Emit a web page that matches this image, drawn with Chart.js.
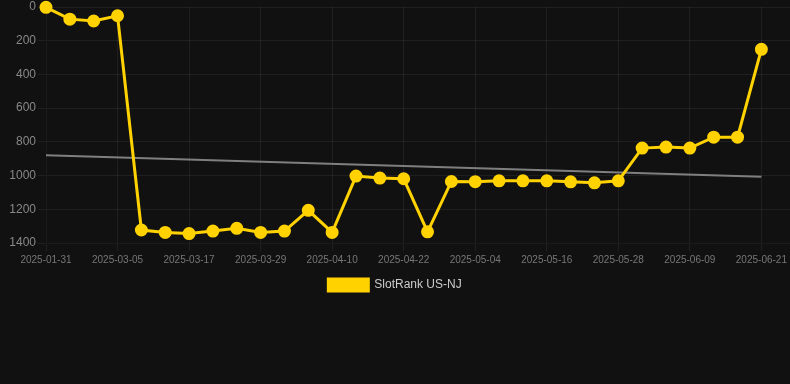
<!DOCTYPE html>
<html>
<head>
<meta charset="utf-8">
<script src="https://cdn.jsdelivr.net/npm/chart.js@4"></script>
<style>
  html, body { margin: 0; padding: 0; background: #111111; }
  #wrap { width: 790px; height: 301px; }
</style>
</head>
<body>
<div id="wrap"><canvas id="rankChart"></canvas></div>
<script>
var dates = ['2025-01-31', '2025-02-11', '2025-02-22', '2025-03-05', '2025-03-09', '2025-03-13',
  '2025-03-17', '2025-03-21', '2025-03-25', '2025-03-29', '2025-04-02', '2025-04-06',
  '2025-04-10', '2025-04-14', '2025-04-18', '2025-04-22', '2025-04-26', '2025-04-30',
  '2025-05-04', '2025-05-08', '2025-05-12', '2025-05-16', '2025-05-20', '2025-05-24',
  '2025-05-28', '2025-06-01', '2025-06-05', '2025-06-09', '2025-06-13', '2025-06-17',
  '2025-06-21'];
var rankNJ = [2, 72, 83, 52, 1323, 1337, 1344, 1329, 1313, 1337, 1329, 1206,
  1337, 1003, 1015, 1019, 1334, 1035, 1036, 1031, 1031, 1031, 1037, 1043,
  1031, 837, 831, 837, 772, 772, 251];
var trendEnds = [880, 1007];
var yTicks = [0, 200, 400, 600, 800, 1000, 1200, 1400];

var rankPoints = rankNJ.map(function (v, i) { return { x: i, y: v }; });
var trendPoints = [
  { x: 0, y: trendEnds[0] },
  { x: dates.length - 1, y: trendEnds[1] }
];

var ctx = document.getElementById('rankChart').getContext('2d');
var rankChart = new Chart(ctx, {
  type: 'line',
  data: {
    datasets: [{
      label: 'SlotRank US-NJ',
      data: rankPoints,
      borderColor: '#ffd200',
      backgroundColor: '#ffd200',
      borderWidth: 3,
      pointRadius: 5,
      tension: 0,
      clip: false
    }, {
      label: 'trend',
      data: trendPoints,
      borderColor: 'rgba(140,140,140,0.9)',
      borderWidth: 2,
      pointRadius: 0
    }]
  },
  options: {
    responsive: true,
    maintainAspectRatio: false,
    animation: false,
    layout: { autoPadding: false },
    plugins: {
      legend: {
        position: 'bottom',
        labels: {
          color: '#cccccc',
          font: { size: 12 },
          boxWidth: 40,
          filter: function (item) { return item.text !== 'trend'; }
        }
      },
      tooltip: { enabled: false }
    },
    scales: {
      x: {
        type: 'linear',
        min: 0,
        max: 31.2,
        // grid runs to the right edge, past the last date
        afterFit: function (scale) { scale.paddingLeft = 0; scale.paddingRight = 0; },
        grid: { color: 'rgba(255,255,255,0.06)' },
        ticks: {
          stepSize: 3,
          includeBounds: false,
          maxRotation: 0,
          color: '#777777',
          font: { size: 10 },
          callback: function (value) { return dates[value] || ''; }
        }
      },
      y: {
        reverse: true,
        min: yTicks[0],
        max: yTicks[yTicks.length - 1],
        afterFit: function (scale) { scale.width = 46; scale.paddingTop = 7; },
        grid: { color: 'rgba(255,255,255,0.06)' },
        ticks: {
          stepSize: 200,
          padding: 2,
          color: '#888888',
          font: { size: 12 },
          callback: function (value) { return String(value); }
        }
      }
    }
  }
});
</script>
</body>
</html>
